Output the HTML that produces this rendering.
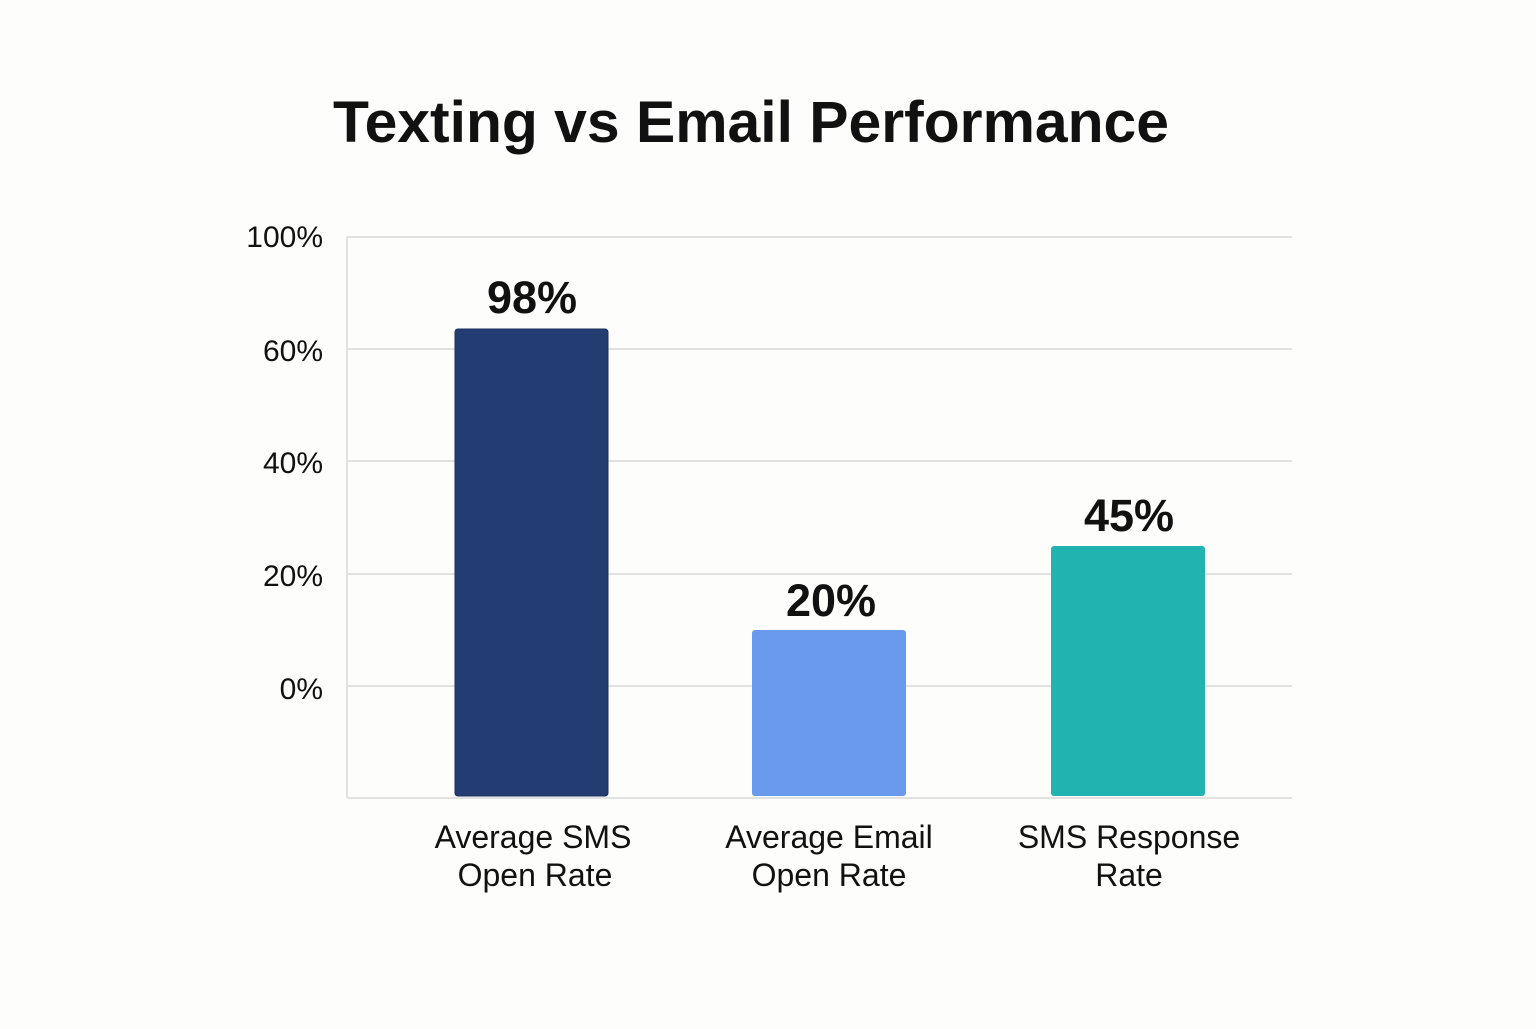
<!DOCTYPE html>
<html><head><meta charset="utf-8"><style>
body{margin:0;width:1536px;height:1024px;background:#fdfdfc;overflow:hidden;font-family:"Liberation Sans",sans-serif;}
</style></head><body>
<svg width="1536" height="1024" xmlns="http://www.w3.org/2000/svg" font-family="Liberation Sans, sans-serif">
<text x="751" y="142" text-anchor="middle" font-size="58" font-weight="bold" fill="#111" textLength="836" lengthAdjust="spacingAndGlyphs">Texting vs Email Performance</text>
<g stroke="#e2e2e2" stroke-width="2">
<line x1="347" y1="237" x2="1292" y2="237"/>
<line x1="347" y1="349" x2="1292" y2="349"/>
<line x1="347" y1="461" x2="1292" y2="461"/>
<line x1="347" y1="574" x2="1292" y2="574"/>
<line x1="347" y1="686" x2="1292" y2="686"/>
<line x1="347" y1="798" x2="1292" y2="798"/>
<line x1="347" y1="237" x2="347" y2="798"/>
</g>
<g font-size="30" fill="#111" text-anchor="end">
<text x="323" y="247">100%</text>
<text x="323" y="361">60%</text>
<text x="323" y="473">40%</text>
<text x="323" y="586">20%</text>
<text x="323" y="699">0%</text>
</g>
<rect x="455" y="329" width="153" height="467" rx="3" fill="#233d73" stroke="#1a2f5c" stroke-width="1"/>
<rect x="752" y="630" width="154" height="166" rx="3" fill="#6a9aec"/>
<rect x="1051" y="546" width="154" height="250" rx="3" fill="#20b3b0"/>
<g font-size="45" font-weight="bold" fill="#111" text-anchor="middle">
<text x="532" y="313">98%</text>
<text x="831" y="616">20%</text>
<text x="1129" y="531">45%</text>
</g>
<g font-size="32" fill="#111" text-anchor="middle">
<text x="533" y="848">Average SMS</text>
<text x="535" y="886">Open Rate</text>
<text x="829" y="848">Average Email</text>
<text x="829" y="886">Open Rate</text>
<text x="1129" y="848">SMS Response</text>
<text x="1129" y="886">Rate</text>
</g>
</svg>
</body></html>
